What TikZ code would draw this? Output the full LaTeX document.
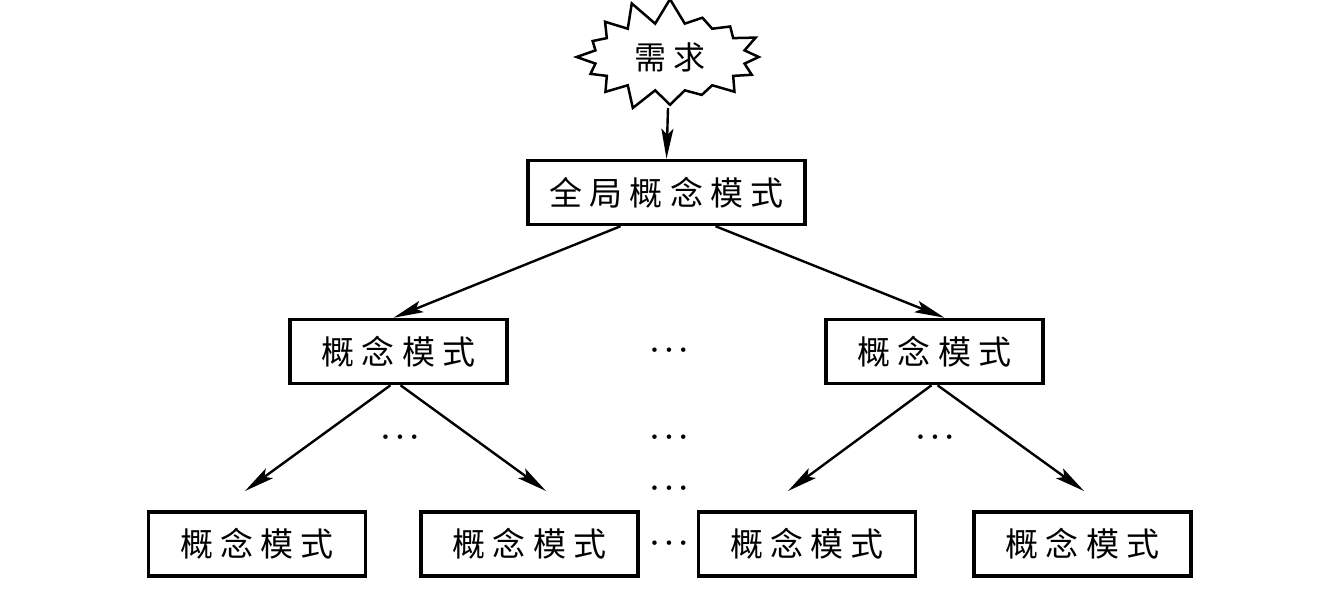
\documentclass[tikz,border=0pt]{standalone}
\usepackage{fontspec}
\newfontfamily\cjk[LetterSpace=22]{Noto Sans CJK SC}
\usetikzlibrary{shapes.symbols,arrows.meta}
\begin{document}
\begin{tikzpicture}[x=1pt,y=-1pt,
  box/.style={draw,line width=3.5pt,minimum height=64pt,inner sep=0pt,font=\cjk\fontsize{33}{33}\selectfont},
  wide/.style={box,minimum width=277pt},
  mid/.style={box,minimum width=217pt},
  conn/.style={line width=2.4pt,-{Stealth[length=30pt,width=12pt,inset=6pt]}},
  dots/.style={inner sep=0pt,font=\fontsize{20}{20}\selectfont}]
\useasboundingbox (0,0) rectangle (1335,601);
\node[starburst,draw,line width=2.5pt,minimum width=204pt,minimum height=120pt,starburst points=16,starburst point height=26pt,random starburst=30,inner sep=0pt,font=\cjk\fontsize{32}{32}\selectfont] (star) at (670,57) {需求};
\node[wide] (glob) at (666.5,192.5) {全局概念模式};
\node[mid] (ml) at (398.5,351.5) {概念模式};
\node[mid] (mr) at (934.5,351.5) {概念模式};
\node[mid] (b1) at (257,544) {概念模式};
\node[mid] (b2) at (529.5,544) {概念模式};
\node[mid] (b3) at (807,544) {概念模式};
\node[mid] (b4) at (1082.5,544) {概念模式};
\coordinate (s0) at (668,108);
\coordinate (e1) at (245,491);
\coordinate (e2) at (546,491);
\coordinate (e3) at (788,491);
\coordinate (e4) at (1084,491);
\node[dots] (d0) at (669,352) {\textbullet\textbullet\textbullet};
\node[dots] (d1) at (400,439) {\textbullet\textbullet\textbullet};
\node[dots] (d2) at (669,439) {\textbullet\textbullet\textbullet};
\node[dots] (d3) at (669,490) {\textbullet\textbullet\textbullet};
\node[dots] (d4) at (669,545) {\textbullet\textbullet\textbullet};
\node[dots] (d5) at (935,439) {\textbullet\textbullet\textbullet};
\draw[conn] (s0) -- (glob.north);
\draw[conn] ([xshift=-46pt]glob.south) -- ([xshift=-5pt]ml.north);
\draw[conn] ([xshift=49pt]glob.south) -- ([xshift=10pt]mr.north);
\draw[conn] ([xshift=-8pt]ml.south) -- (e1);
\draw[conn] ([xshift=2pt]ml.south) -- (e2);
\draw[conn] ([xshift=-3pt]mr.south) -- (e3);
\draw[conn] ([xshift=3pt]mr.south) -- (e4);
\end{tikzpicture}
\end{document}
